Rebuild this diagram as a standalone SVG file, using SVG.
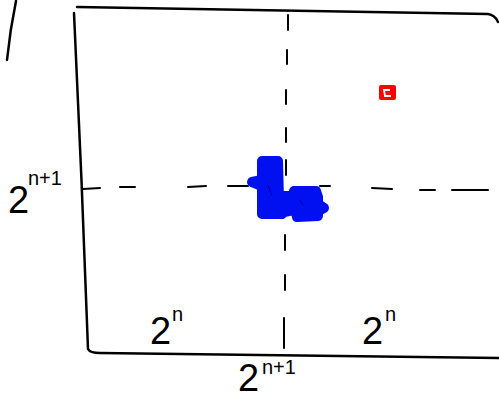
<svg xmlns="http://www.w3.org/2000/svg" width="499" height="398" viewBox="0 0 499 398">
<style>
.ln{fill:none;stroke:#000;stroke-width:2.5;stroke-linecap:round;stroke-linejoin:round}
.ds{fill:none;stroke:#000;stroke-width:2;stroke-linecap:round}
.big{font-family:"Liberation Sans",Arial,sans-serif;font-size:38px;fill:#000}
.sup{font-family:"Liberation Sans",Arial,sans-serif;font-size:20px;fill:#000}
.blue{fill:#0010f0;stroke:#0010f0;stroke-width:10;stroke-linejoin:round;stroke-linecap:round}
</style>
<rect width="499" height="398" fill="#fff"/>
<g id="frame">
<path class="ln" d="M16,1 Q10,30 7,60"/>
<path class="ln" d="M74,13 Q82,180 88,349 Q90,353 100,353 L499,358"/>
<path class="ln" d="M77,7 Q300,10 488,14 Q495,15 498,22"/>
</g>
<g id="connectors">
<path class="ds" d="M83,189 L100,188 M120,187 L135,187 M188,187 L206,186 M228,186 L248,186 M320,186 L330,186 M372,188 L392,189 M420,190 L435,190 M452,190 L488,190"/>
<path class="ds" d="M288,15 L288,30 M287,50 L287,64 M286,90 L286,104 M286,128 L286,142 M286,160 L286,175 M285,235 L285,250 M285,275 L285,290 M284,318 L284,348"/>
</g>
<g id="blue-scribble">
<path class="blue" d="M262,161 L278,161 L279,200 L282,214 L262,214 Z"/>
<path class="blue" d="M252,182 L262,180 L262,186 Z"/>
<path class="blue" d="M294,191 L316,191 L318,197 L318,216 L297,217 L294,205 Z"/>
<path class="blue" d="M279,196 L294,196 L294,210 L279,213 Z"/>
<path class="blue" d="M318,204 L324,208 L318,211 Z"/>
<path d="M268,185 L272,196 M300,200 L303,205" stroke="#0000a0" stroke-width="1" fill="none"/>
</g>
<g id="red-mark">
<rect x="379" y="85" width="17" height="15" rx="2" fill="#ff0000"/>
<path d="M390,90 L384,90 L385,96 L391,96" fill="none" stroke="#fff" stroke-width="1.8"/>
</g>
<g id="label-left">
<text class="big" x="8" y="213">2</text>
<text class="sup" x="28" y="185">n+1</text>
</g>
<g id="label-bl">
<text class="big" x="150" y="344">2</text>
<text class="sup" x="172" y="321">n</text>
</g>
<g id="label-br">
<text class="big" x="362" y="344">2</text>
<text class="sup" x="385" y="321">n</text>
</g>
<g id="label-bottom">
<text class="big" x="238" y="391">2</text>
<text class="sup" x="262" y="374">n+1</text>
</g>
</svg>
